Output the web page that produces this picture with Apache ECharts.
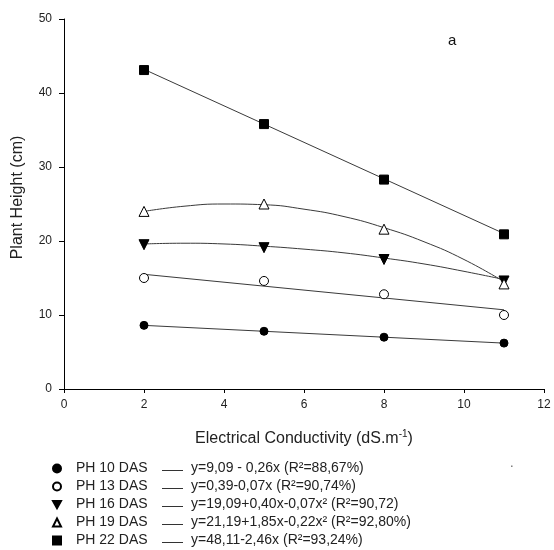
<!DOCTYPE html>
<html>
<head>
<meta charset="utf-8">
<script src="https://cdn.jsdelivr.net/npm/echarts@6/dist/echarts.min.js"></script>
<style>html,body{margin:0;padding:0;background:#fff;}#c{width:554px;height:550px;}</style>
</head>
<body>
<div id="c"></div>
<script>
// Measured points (x = electrical conductivity, y = plant height)
const ecX = [2, 5, 8, 11];
const ph10 = [8.6, 7.8, 7.0, 6.2];
const ph13 = [15.0, 14.6, 12.8, 10.0];
const ph16 = [19.5, 19.1, 17.5, 14.6];
const ph19 = [24.0, 25.0, 21.6, 14.2];
const ph22 = [43.1, 35.8, 28.3, 20.9];

// Trend lines
const fitXLin = [2, 11];
const fit10 = [8.6, 6.2];
const fit13 = [15.5, 10.7];
const fit22 = [43.2, 21.0];
const fitXQuad = [2, 3, 4, 5, 6, 7, 8, 9, 10, 11];
const fit16 = [19.6, 19.7, 19.6, 19.3, 18.9, 18.4, 17.7, 16.9, 15.9, 14.8];
const fit19 = [24.0, 24.7, 25.0, 24.9, 24.3, 23.3, 21.8, 19.9, 17.5, 14.5];

const seriesNames = ['PH 10 DAS', 'PH 13 DAS', 'PH 16 DAS', 'PH 19 DAS', 'PH 22 DAS'];
const equations = [
  'y=9,09 - 0,26x (R²=88,67%)',
  'y=0,39-0,07x (R²=90,74%)',
  'y=19,09+0,40x-0,07x² (R²=90,72)',
  'y=21,19+1,85x-0,22x² (R²=92,80%)',
  'y=48,11-2,46x (R²=93,24%)'
];
const xTicks = [0, 2, 4, 6, 8, 10, 12];
const yTicks = [0, 10, 20, 30, 40, 50];

const FONT = 'Arial, "Liberation Sans", sans-serif';
const LINE = '#3a3a3a';
const downTri = 'path://M0,0 L10,0 L5,9 Z';

function pairs(xs, ys) { return xs.map((x, i) => [x, ys[i]]); }

const markerDefs = [
  { data: ph10, symbol: 'circle', size: 8, fill: '#000' },
  { data: ph13, symbol: 'circle', size: 9, fill: '#fff' },
  { data: ph16, symbol: downTri, size: 10, fill: '#000' },
  { data: ph19, symbol: 'triangle', size: 10, fill: '#fff' },
  { data: ph22, symbol: 'rect', size: 9, fill: '#000' }
];
const fitDefs = [
  { x: fitXLin, y: fit10, smooth: false },
  { x: fitXLin, y: fit13, smooth: false },
  { x: fitXQuad, y: fit16, smooth: true },
  { x: fitXQuad, y: fit19, smooth: true },
  { x: fitXLin, y: fit22, smooth: false }
];

const series = [];
fitDefs.forEach((f, i) => {
  series.push({
    name: 'fit' + i, type: 'line', data: pairs(f.x, f.y), smooth: f.smooth ? 0.5 : false,
    showSymbol: false, symbol: 'none', silent: true, z: 2,
    lineStyle: { color: LINE, width: 1 }
  });
});
markerDefs.forEach((m, i) => {
  series.push({
    name: seriesNames[i], type: 'scatter', data: pairs(ecX, m.data),
    symbol: m.symbol, symbolSize: m.size, z: 5,
    itemStyle: { color: m.fill, borderColor: '#000', borderWidth: 1, opacity: 1 }
  });
});

const legendTop = 461.5;
const rowH = 18;
const graphics = [
  { type: 'text', left: 448, top: 33, style: { text: 'a', font: '15px ' + FONT, fill: '#111' } },
  { type: 'text', left: 510, top: 457, style: { text: '.', font: '13px ' + FONT, fill: '#666' } },
  { type: 'text', x: 18, y: 197.5, rotation: Math.PI / 2,
    style: { text: 'Plant Height (cm)', font: '16px ' + FONT, fill: '#222', align: 'center', verticalAlign: 'middle' } }
];
seriesNames.forEach((n, i) => {
  const y = Math.round(legendTop + rowH * i + 8) + 0.5;
  graphics.push({ type: 'line', shape: { x1: 162, y1: y, x2: 183, y2: y }, style: { stroke: '#333', lineWidth: 1 } });
});

const chart = echarts.init(document.getElementById('c'), null, { renderer: 'canvas' });
chart.setOption({
  backgroundColor: '#fff',
  animation: false,
  textStyle: { fontFamily: FONT },
  grid: { left: 64, right: 10, top: 19, bottom: 161, containLabel: false },
  xAxis: {
    type: 'value', min: xTicks[0], max: xTicks[xTicks.length - 1], interval: 2,
    name: '{t|Electrical Conductivity (dS.m}{s|-1}{t|)}',
    nameLocation: 'middle', nameGap: 40,
    nameTextStyle: { rich: {
      t: { fontSize: 16, fontFamily: FONT, color: '#222', verticalAlign: 'bottom', lineHeight: 18 },
      s: { fontSize: 10, fontFamily: FONT, color: '#222', verticalAlign: 'top', lineHeight: 18, padding: [0, 0, 9, 0] } } },
    axisLine: { show: true, lineStyle: { color: '#000', width: 1 } },
    axisTick: { show: true, length: 4, lineStyle: { color: '#000' } },
    axisLabel: { fontSize: 12, color: '#222', margin: 10, fontFamily: FONT },
    splitLine: { show: false }
  },
  yAxis: {
    type: 'value', min: yTicks[0], max: yTicks[yTicks.length - 1], interval: 10,
    axisLine: { show: true, lineStyle: { color: '#000', width: 1 } },
    axisTick: { show: true, length: 5, lineStyle: { color: '#000' } },
    axisLabel: { fontSize: 12, color: '#222', margin: 12, fontFamily: FONT },
    splitLine: { show: false }
  },
  legend: {
    orient: 'vertical', left: 52, top: legendTop, padding: 0,
    itemWidth: 8, itemHeight: 8, itemGap: 4,
    data: seriesNames.map((n, i) => ({ name: n, icon: markerDefs[i].symbol })),
    selectedMode: false,
    formatter: function (name) {
      const i = seriesNames.indexOf(name);
      return '{n|' + name + '}{e|' + equations[i] + '}';
    },
    textStyle: {
      fontFamily: FONT, fontSize: 14, color: '#222', lineHeight: 14,
      rich: {
        n: { width: 115, padding: [0, 0, 0, 10], fontSize: 14, fontFamily: FONT, color: '#222', lineHeight: 14 },
        e: { fontSize: 14, fontFamily: FONT, color: '#222', lineHeight: 14 }
      }
    }
  },
  graphic: graphics,
  series: series
});
</script>
</body>
</html>
